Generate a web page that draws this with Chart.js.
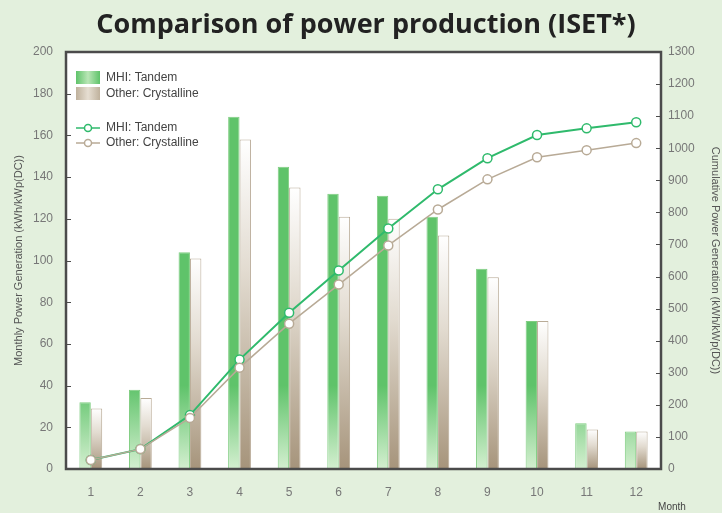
<!DOCTYPE html>
<html>
<head>
<meta charset="utf-8">
<script src="https://cdn.jsdelivr.net/npm/chart.js@4.4.1/dist/chart.umd.min.js"></script>
<style>
  html, body { margin: 0; padding: 0; background: #e3f0dd; }
  #wrap { width: 722px; height: 513px; position: relative; }
</style>
</head>
<body>
<div id="wrap"><canvas id="c" width="722" height="513"></canvas></div>
<script>
// values
const months = ['1', '2', '3', '4', '5', '6', '7', '8', '9', '10', '11', '12'];
const mhiMonthly = [32, 38, 104, 169, 145, 132, 131, 121, 96, 71, 22, 18];
const crystMonthly = [29, 34, 101, 158, 135, 121, 120, 112, 92, 71, 19, 18];
const mhiCumulative = [28, 62, 168, 341, 487, 619, 750, 872, 969, 1041, 1062, 1081];
const crystCumulative = [28, 62, 159, 316, 453, 575, 697, 809, 903, 972, 994, 1016];
const leftTicks = [0, 20, 40, 60, 80, 100, 120, 140, 160, 180, 200];
const rightTicks = [0, 100, 200, 300, 400, 500, 600, 700, 800, 900, 1000, 1100, 1200, 1300];

const col = {
  bg: '#e3f0dd', frame: '#4b4b4b', tick: '#777', text: '#444',
  green: '#5fc36a', greenLight: '#d4efd0', greenLine: '#2fba6c',
  beige: '#a6947b', beigeEdge: '#b9ab97', beigeLine: '#b8aa96'
};
const sans = 'Liberation Sans, Arial, sans-serif';

function greenFill(ctx) {
  const area = ctx.chart.chartArea;
  if (!area) return col.green;
  const g = ctx.chart.ctx.createLinearGradient(0, area.top, 0, area.bottom);
  g.addColorStop(0, col.green);
  g.addColorStop(0.8, col.green);
  g.addColorStop(1, col.greenLight);
  return g;
}

function beigeFill(ctx) {
  const area = ctx.chart.chartArea;
  if (!area || ctx.raw == null) return col.beige;
  const yTop = ctx.chart.scales.y.getPixelForValue(ctx.raw);
  const g = ctx.chart.ctx.createLinearGradient(0, yTop, 0, area.bottom);
  g.addColorStop(0, '#ffffff');
  g.addColorStop(0.4, '#e2dbd0');
  g.addColorStop(1, col.beige);
  return g;
}

const decor = {
  id: 'decor',
  beforeDraw(chart) {
    const { ctx, chartArea: a } = chart;
    ctx.save();
    ctx.fillStyle = col.bg;
    ctx.fillRect(0, 0, chart.width, chart.height);
    ctx.fillStyle = '#ffffff';
    ctx.fillRect(a.left, a.top, a.right - a.left, a.bottom - a.top);
    // title
    ctx.fillStyle = '#222';
    ctx.font = 'bold 27px "Open Sans", sans-serif';
    ctx.textAlign = 'center';
    ctx.textBaseline = 'alphabetic';
    ctx.fillText('Comparison of power production (ISET*)', 366, 33);
    ctx.restore();
  },
  afterDraw(chart) {
    const { ctx, chartArea: a, scales } = chart;
    ctx.save();
    // inward tick marks
    ctx.strokeStyle = col.frame;
    ctx.lineWidth = 1;
    leftTicks.forEach(v => {
      const y = Math.round(scales.y.getPixelForValue(v)) + 0.5;
      ctx.beginPath(); ctx.moveTo(a.left, y); ctx.lineTo(a.left + 5, y); ctx.stroke();
    });
    rightTicks.forEach(v => {
      const y = Math.round(scales.y1.getPixelForValue(v)) + 0.5;
      ctx.beginPath(); ctx.moveTo(a.right, y); ctx.lineTo(a.right - 5, y); ctx.stroke();
    });
    // frame
    ctx.lineWidth = 2.5;
    ctx.strokeRect(a.left, a.top, a.right - a.left, a.bottom - a.top);

    // legend
    ctx.font = '12px ' + sans;
    ctx.textBaseline = 'middle';
    ctx.textAlign = 'left';
    const lx = 76, tx = 106;
    let g = ctx.createLinearGradient(lx, 0, lx + 24, 0);
    g.addColorStop(0, col.green); g.addColorStop(0.5, '#b9e6b6'); g.addColorStop(1, col.green);
    ctx.fillStyle = g; ctx.fillRect(lx, 71, 24, 13);
    g = ctx.createLinearGradient(lx, 0, lx + 24, 0);
    g.addColorStop(0, '#bfb19c'); g.addColorStop(0.5, '#e6ded2'); g.addColorStop(1, '#bfb19c');
    ctx.fillStyle = g; ctx.fillRect(lx, 87, 24, 13);
    ctx.fillStyle = col.text;
    ctx.fillText(chart.data.datasets[0].label, tx, 77.5);
    ctx.fillText(chart.data.datasets[1].label, tx, 93.5);
    [[2, 128, col.greenLine], [3, 143, col.beigeLine]].forEach(([i, y, c]) => {
      ctx.strokeStyle = c; ctx.lineWidth = 1.5;
      ctx.beginPath(); ctx.moveTo(lx, y); ctx.lineTo(lx + 24, y); ctx.stroke();
      ctx.fillStyle = '#fff';
      ctx.beginPath(); ctx.arc(lx + 12, y, 3.5, 0, Math.PI * 2); ctx.fill(); ctx.stroke();
      ctx.fillStyle = col.text;
      ctx.fillText(chart.data.datasets[i].label, tx, y);
    });

    // x axis name
    ctx.font = '10px ' + sans;
    ctx.fillStyle = col.text;
    ctx.textAlign = 'center';
    ctx.fillText('Month', 672, 507);
    ctx.restore();
  }
};

new Chart(document.getElementById('c'), {
  type: 'bar',
  data: {
    labels: months,
    datasets: [
      { type: 'bar', label: 'MHI: Tandem', data: mhiMonthly, yAxisID: 'y',
        backgroundColor: greenFill, borderColor: '#7fcd80', borderWidth: 1,
        barPercentage: 1, categoryPercentage: 0.46, order: 2 },
      { type: 'bar', label: 'Other: Crystalline', data: crystMonthly, yAxisID: 'y',
        backgroundColor: beigeFill, borderColor: col.beigeEdge, borderWidth: 1,
        barPercentage: 1, categoryPercentage: 0.46, order: 2 },
      { type: 'line', label: 'MHI: Tandem', data: mhiCumulative, yAxisID: 'y1',
        borderColor: col.greenLine, borderWidth: 2, pointRadius: 4.5,
        pointBackgroundColor: '#fff', pointBorderColor: col.greenLine, pointBorderWidth: 1.5,
        tension: 0, order: 1 },
      { type: 'line', label: 'Other: Crystalline', data: crystCumulative, yAxisID: 'y1',
        borderColor: col.beigeLine, borderWidth: 1.5, pointRadius: 4.5,
        pointBackgroundColor: '#fff', pointBorderColor: col.beigeLine, pointBorderWidth: 1.5,
        tension: 0, order: 0 }
    ]
  },
  options: {
    responsive: false,
    animation: false,
    layout: { padding: { top: 52, left: 0, right: 0, bottom: 0 } },
    plugins: { legend: { display: false }, title: { display: false }, tooltip: { enabled: false } },
    scales: {
      x: {
        grid: { display: false, drawTicks: false },
        border: { display: false },
        ticks: { color: col.tick, font: { family: sans, size: 12 }, padding: 16 },
        afterFit: s => { s.height = 44; }
      },
      y: {
        position: 'left', min: 0, max: 200,
        afterBuildTicks: s => { s.ticks = leftTicks.map(v => ({ value: v })); },
        grid: { display: false, drawTicks: false },
        border: { display: false },
        ticks: { color: col.tick, font: { family: sans, size: 12 }, padding: 13, callback: v => String(v) },
        title: { display: true, text: 'Monthly Power Generation (kWh/kWp(DC))',
                 color: '#555', font: { family: sans, size: 11 }, padding: { top: 12, bottom: 0 } },
        afterFit: s => { s.width = 66; }
      },
      y1: {
        position: 'right', min: 0, max: 1300,
        afterBuildTicks: s => { s.ticks = rightTicks.map(v => ({ value: v })); },
        grid: { display: false, drawTicks: false },
        border: { display: false },
        ticks: { color: col.tick, font: { family: sans, size: 12 }, padding: 7, callback: v => String(v) },
        title: { display: true, text: 'Cumulative Power Generation (kWh/kWp(DC))',
                 color: '#555', font: { family: sans, size: 11 }, padding: { top: 0, bottom: 4 } },
        afterFit: s => { s.width = 61; }
      }
    }
  },
  plugins: [decor]
});
</script>
</body>
</html>
